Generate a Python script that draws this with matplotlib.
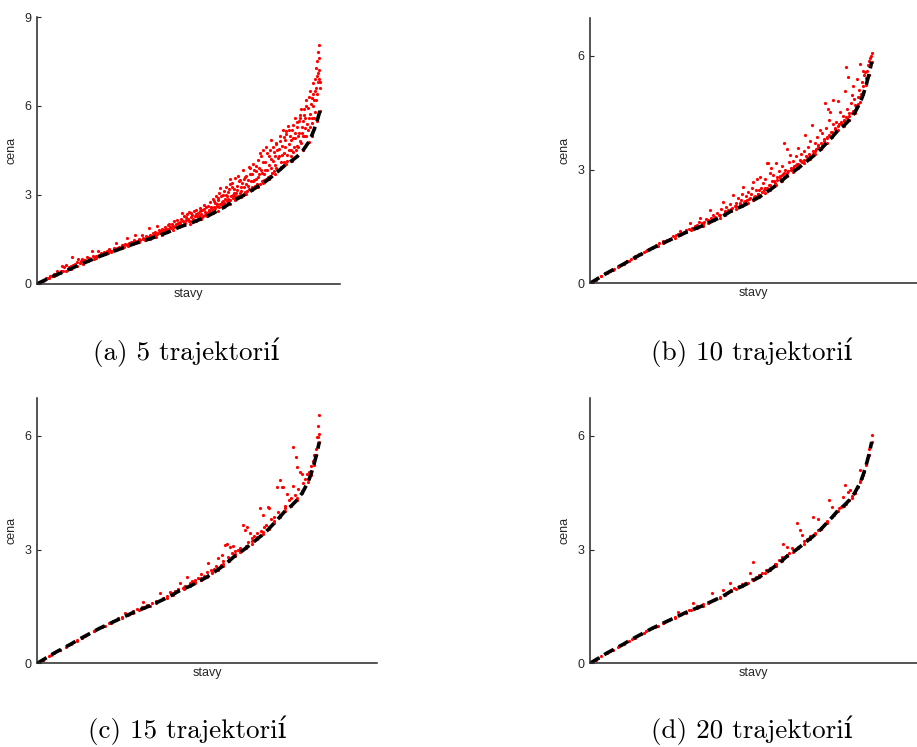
import matplotlib
matplotlib.use("Agg")
from matplotlib import pyplot as plt

# True cost along the states (dashed curve), state position in % of the state range
true_x = [0, 2, 4, 6, 8, 10, 12, 14, 16, 18, 20, 22, 24, 26, 28, 30, 32, 34, 36, 38,
          40, 42, 44, 46, 48, 50, 52, 54, 56, 58, 60, 62, 64, 66, 68, 70, 72, 74, 76, 78,
          80, 82, 84, 86, 88, 90, 92, 94, 96, 97, 98, 99, 100]
true_y = [0, 0.09, 0.18, 0.27, 0.35, 0.43, 0.51, 0.6, 0.68, 0.76, 0.84, 0.92, 0.99, 1.06,
          1.13, 1.2, 1.27, 1.34, 1.4, 1.46, 1.52, 1.59, 1.66, 1.73, 1.81, 1.9, 1.97, 2.03,
          2.11, 2.19, 2.27, 2.37, 2.47, 2.58, 2.7, 2.83, 2.93, 3.04, 3.16, 3.28, 3.4, 3.54,
          3.7, 3.86, 4.03, 4.15, 4.3, 4.5, 4.78, 4.98, 5.22, 5.5, 5.84]

# Estimated costs (red points), (state %, cost)
est_a = [
    (0.8, 0.05), (1.6, 0.1), (2.3, 0.12), (3.1, 0.19), (3.8, 0.2), (4.4, 0.27), (5.2, 0.26),
    (5.9, 0.33), (6.5, 0.31), (7.1, 0.42), (7.7, 0.36), (8.4, 0.44), (9.0, 0.42), (9.6, 0.55),
    (8.8, 0.6), (10.2, 0.62),
    (10.7, 0.5), (11.3, 0.55), (11.9, 0.6), (12.4, 0.9), (12.8, 0.62), (13.5, 0.66), (14.1, 0.72),
    (14.5, 0.85), (15.0, 0.7), (15.6, 0.78), (15.9, 0.85), (16.4, 0.8), (17.0, 0.79), (17.6, 0.9),
    (18.2, 0.86), (18.8, 0.83), (19.4, 1.12), (19.7, 0.92),
    (20.3, 0.9), (20.9, 0.95), (21.4, 1.09), (22.0, 0.97), (22.6, 1.02), (23.1, 1.0), (23.7, 1.08),
    (24.2, 1.05), (24.7, 1.09), (25.3, 1.18), (25.8, 1.1), (26.4, 1.12), (27.0, 1.2), (27.7, 1.39),
    (28.2, 1.19), (28.8, 1.25), (29.3, 1.22), (29.9, 1.32),
    (20.6, 0.88), (21.7, 0.93), (22.9, 0.98), (24.0, 1.02), (25.0, 1.05), (26.1, 1.09), (27.3, 1.13),
    (28.5, 1.17), (29.6, 1.22), (30.7, 1.25), (31.8, 1.3), (32.9, 1.34), (34.0, 1.38), (35.1, 1.42),
    (36.1, 1.44), (37.3, 1.5), (38.4, 1.52), (39.5, 1.56), (40.6, 1.6), (41.6, 1.64), (42.5, 1.68),
    (43.5, 1.72), (44.5, 1.76), (45.5, 1.8), (46.3, 1.84), (47.2, 1.87), (48.2, 1.9), (49.2, 1.95),
    (30.4, 1.3), (30.9, 1.35), (31.6, 1.54), (32.0, 1.33), (32.6, 1.38), (33.1, 1.42), (33.7, 1.4),
    (34.2, 1.48), (34.7, 1.63), (35.3, 1.45), (35.8, 1.5), (36.4, 1.47), (37.1, 1.66), (37.5, 1.55),
    (38.1, 1.52), (38.6, 1.6), (39.2, 1.58), (39.5, 1.88), (39.8, 1.65),
    (40.3, 1.6), (40.8, 1.7), (41.3, 1.66), (41.8, 1.75), (42.2, 1.95), (42.7, 1.72), (43.2, 1.8),
    (43.7, 1.78), (44.2, 1.86), (44.7, 1.82), (45.2, 1.9), (45.7, 1.85), (46.1, 1.98), (46.5, 2.03),
    (47.0, 1.92), (47.5, 2.0), (48.0, 1.95), (48.5, 2.1), (49.0, 2.02), (49.5, 2.15), (49.9, 2.05),
    (50.4, 2.0), (50.8, 2.2), (51.2, 2.37), (51.6, 2.1), (52.0, 2.28), (52.5, 2.15), (52.9, 2.35),
    (53.3, 2.2), (53.8, 2.42), (54.2, 2.25), (54.6, 2.33), (55.0, 2.2), (55.4, 2.45), (55.8, 2.3),
    (56.2, 2.5), (56.6, 2.28), (57.0, 2.4), (57.5, 2.55), (57.9, 2.35), (58.3, 2.48), (58.9, 2.65),
    (59.2, 2.42), (59.6, 2.58),
    (50.2, 1.95), (50.6, 2.08), (51.0, 1.98), (51.8, 2.02), (52.3, 2.05), (52.7, 2.25), (53.5, 2.1),
    (54.0, 2.1), (54.4, 2.38), (54.9, 2.12), (55.6, 2.15), (56.0, 2.35), (56.9, 2.2), (57.3, 2.28),
    (57.7, 2.45), (58.1, 2.25), (58.6, 2.3), (59.0, 2.52), (59.4, 2.32), (59.8, 2.4),
    (60.0, 2.4), (60.4, 2.62), (60.8, 2.5), (61.2, 2.75), (61.6, 2.55), (62.0, 2.85), (62.4, 2.6),
    (62.8, 2.72), (63.2, 2.95), (63.6, 2.68), (64.0, 2.82), (64.4, 3.05), (64.8, 3.24), (65.2, 2.75),
    (65.6, 2.98), (66.0, 3.12), (66.4, 2.85), (66.8, 3.25), (67.2, 2.95), (67.6, 3.1), (68.0, 3.38),
    (68.3, 3.55), (68.7, 3.4), (69.1, 3.0), (69.5, 3.2), (69.9, 3.57),
    (60.2, 2.32), (60.6, 2.45), (61.0, 2.4), (61.4, 2.6), (61.8, 2.45), (62.2, 2.5), (62.6, 2.8),
    (63.0, 2.55), (63.4, 2.62), (63.8, 2.9), (64.2, 2.6), (64.6, 2.7), (65.0, 2.95), (65.4, 2.68),
    (65.8, 2.8), (66.2, 2.72), (66.6, 3.0), (67.0, 2.8), (67.4, 2.85), (67.8, 3.2), (68.1, 2.82),
    (68.5, 2.95), (68.9, 3.25), (69.3, 2.9), (69.7, 3.05),
    (70.3, 3.05), (70.7, 3.3), (71.1, 3.65), (71.6, 3.51), (72.0, 3.12), (72.4, 3.4), (72.8, 3.85),
    (73.2, 3.25), (73.6, 3.6), (74.0, 3.62), (74.4, 3.3), (74.8, 3.95), (75.2, 3.9), (75.6, 3.45),
    (76.0, 3.7), (76.4, 4.05), (76.8, 3.5), (77.2, 3.8), (77.5, 3.96), (77.9, 3.6), (78.1, 4.18),
    (78.5, 3.9), (78.9, 4.4), (79.3, 4.3), (79.6, 3.75), (79.9, 4.52),
    (70.1, 2.95), (70.5, 3.15), (70.9, 2.95), (71.3, 3.45), (71.8, 3.05), (72.2, 3.25), (72.6, 3.0),
    (73.0, 3.55), (73.4, 3.1), (73.8, 3.35), (74.2, 3.12), (74.6, 3.5), (75.0, 3.2), (75.4, 3.7),
    (75.8, 3.25), (76.2, 3.45), (76.6, 3.85), (77.0, 3.3), (77.4, 3.55), (77.7, 3.35), (78.3, 3.7),
    (78.7, 3.38), (79.1, 3.85), (79.5, 3.45), (79.8, 4.1),
    (80.3, 3.7), (80.6, 4.1), (81.0, 4.6), (81.4, 3.85), (81.8, 4.3), (82.2, 4.52), (82.5, 3.9),
    (82.8, 4.86), (83.2, 4.15), (83.6, 4.45), (84.0, 4.0), (84.3, 4.7), (84.6, 4.75), (85.0, 4.25),
    (85.4, 4.55), (85.8, 4.97), (86.2, 4.1), (86.5, 4.65), (86.9, 5.2), (87.2, 4.4), (87.5, 4.86),
    (87.9, 5.05), (88.2, 4.35), (88.7, 5.31), (89.0, 4.7), (89.4, 5.0), (89.8, 4.5),
    (80.1, 3.5), (80.5, 3.85), (80.9, 3.55), (81.2, 4.4), (81.6, 3.6), (82.0, 4.0), (82.4, 3.65),
    (82.7, 4.2), (83.0, 3.75), (83.4, 4.6), (83.8, 3.8), (84.1, 4.3), (84.5, 3.9), (84.8, 4.5),
    (85.2, 3.85), (85.6, 4.3), (86.0, 4.8), (86.3, 3.95), (86.7, 4.35), (87.1, 4.95), (87.4, 4.1),
    (87.7, 4.6), (88.0, 5.15), (88.4, 4.15), (88.9, 4.5), (89.2, 5.2), (89.6, 4.3), (89.9, 4.85),
    (90.1, 5.2), (90.5, 5.37), (90.8, 4.6), (91.0, 5.6), (91.3, 4.9), (91.7, 4.63), (92.0, 5.3),
    (92.2, 4.97), (92.5, 5.5), (92.8, 5.6), (93.1, 4.8), (93.4, 5.88), (93.7, 5.1), (94.0, 5.48),
    (94.3, 5.7), (94.6, 5.26), (94.9, 5.0),
    (90.3, 4.45), (90.6, 4.9), (91.1, 5.1), (91.5, 4.5), (91.9, 5.45), (92.3, 4.6), (92.7, 5.1),
    (93.0, 5.7), (93.3, 4.75), (93.6, 5.3), (93.9, 5.0), (94.2, 5.9), (94.5, 5.0), (94.8, 5.6),
    (95.2, 6.21), (95.4, 5.4), (95.8, 5.93), (96.1, 5.6), (96.4, 6.5), (96.6, 5.71), (97.0, 6.27),
    (97.2, 5.43), (97.5, 6.78), (97.7, 5.99), (98.0, 6.2), (98.1, 6.5), (98.3, 5.8), (98.5, 7.29),
    (98.7, 6.6), (98.9, 7.0), (99.1, 7.51), (99.3, 7.81), (99.5, 6.9), (99.6, 8.04), (99.8, 7.2),
    (100.0, 6.6),
    (95.0, 6.0), (95.6, 5.2), (96.0, 6.3), (96.3, 5.3), (96.8, 6.05), (97.1, 5.6), (97.4, 6.4),
    (97.9, 5.6), (98.2, 6.9), (98.6, 6.2), (99.0, 6.4), (99.2, 6.8), (99.4, 7.1), (99.7, 7.6),
    (99.9, 6.8),
]

est_b = [
    (1.0, 0.06), (2.5, 0.13), (4.0, 0.2), (5.5, 0.27), (7.0, 0.33), (8.5, 0.39), (10.0, 0.45),
    (11.5, 0.52), (13.0, 0.58), (14.5, 0.64), (16.0, 0.71), (17.5, 0.77), (19.0, 0.83), (20.1, 0.88),
    (21.0, 0.9), (22.3, 0.96), (23.5, 1.0), (24.6, 1.05), (26.0, 1.12), (27.2, 1.15), (28.4, 1.18),
    (29.5, 1.25), (30.6, 1.27), (31.4, 1.3), (32.0, 1.38), (33.2, 1.36), (34.1, 1.4), (35.0, 1.44),
    (35.5, 1.58), (36.3, 1.46), (37.2, 1.52), (38.0, 1.55), (38.8, 1.62), (39.0, 1.71), (39.6, 1.58),
    (40.5, 1.62), (41.2, 1.7), (41.9, 1.64), (42.6, 1.93), (43.1, 1.72), (43.8, 1.8), (44.5, 1.74),
    (45.2, 1.85), (45.9, 1.8), (46.5, 1.95), (47.3, 2.15), (47.8, 1.9), (48.4, 2.0), (49.0, 1.92),
    (49.6, 2.1),
    (50.3, 1.98), (50.9, 2.33), (51.4, 2.05), (52.0, 2.12), (52.6, 2.25), (53.1, 2.08), (53.6, 2.2),
    (54.0, 2.35), (54.4, 2.55), (54.8, 2.15), (55.3, 2.3), (55.8, 2.2), (56.2, 2.42), (56.7, 2.25),
    (57.2, 2.36), (57.6, 2.5), (58.0, 2.68), (58.4, 2.3), (58.9, 2.45), (59.2, 2.74), (59.6, 2.35),
    (60.0, 2.45), (60.3, 2.81), (60.8, 2.5), (61.3, 2.65), (61.8, 2.45), (62.3, 2.75), (62.7, 3.16),
    (63.1, 3.18), (63.4, 2.6), (63.8, 2.9), (64.2, 3.03), (64.6, 2.7), (65.0, 2.85), (65.5, 2.65),
    (66.0, 3.16), (66.5, 2.8), (67.0, 2.95), (67.5, 2.78), (68.0, 3.1), (68.5, 2.88), (68.9, 3.71),
    (69.3, 3.0), (69.8, 3.53),
    (70.2, 2.95), (70.6, 3.2), (71.0, 3.38), (71.5, 3.05), (72.0, 3.23), (72.5, 3.1), (73.0, 3.35),
    (73.5, 3.15), (73.9, 3.56), (74.4, 3.25), (74.9, 3.4), (75.4, 3.2), (75.9, 3.5), (76.3, 3.91),
    (76.8, 3.35), (77.3, 3.6), (77.8, 3.4), (78.2, 3.75), (78.7, 4.17), (79.2, 3.5), (79.7, 3.7),
    (80.2, 3.55), (80.7, 3.85), (81.1, 3.65), (81.6, 4.04), (82.0, 3.7), (82.5, 3.95), (83.0, 3.8),
    (83.4, 4.75), (83.9, 4.1), (84.3, 3.85), (84.8, 4.3), (85.2, 4.52), (85.7, 4.0), (86.1, 4.2),
    (86.4, 4.83), (86.9, 4.1), (87.5, 4.26), (88.0, 4.15), (88.7, 4.52), (89.2, 4.25), (89.7, 4.4),
    (90.1, 4.3), (90.4, 5.07), (90.9, 5.71), (91.1, 4.35), (91.4, 4.6), (91.7, 5.45), (92.1, 4.5),
    (92.5, 4.75), (92.9, 4.96), (93.3, 4.55), (93.7, 4.85), (94.1, 4.7), (94.5, 4.65), (94.7, 5.38),
    (95.1, 4.9), (95.5, 5.1), (95.8, 5.78), (96.2, 5.0), (96.6, 5.3), (97.0, 5.2), (97.3, 5.5),
    (97.6, 5.58), (98.0, 5.4), (98.4, 5.6), (98.8, 5.75), (99.2, 5.85), (99.5, 5.95), (99.8, 5.99),
    (100.0, 6.08),
    (40.0, 1.57), (42.0, 1.66), (44.0, 1.72), (46.0, 1.79), (48.0, 1.87), (50.0, 1.95), (51.7, 2.04),
    (53.3, 2.12), (55.0, 2.18), (56.5, 2.22), (58.2, 2.28), (59.8, 2.36), (61.0, 2.42), (62.0, 2.5),
    (63.0, 2.52), (64.0, 2.6), (65.3, 2.7), (66.3, 2.72), (67.3, 2.82), (68.3, 2.85), (69.0, 2.92),
    (70.0, 2.9), (71.2, 3.0), (72.2, 3.03), (73.2, 3.12), (74.0, 3.14), (75.0, 3.22), (76.0, 3.26),
    (77.0, 3.32), (78.0, 3.36), (79.0, 3.42), (80.0, 3.48), (81.0, 3.6), (82.2, 3.66), (83.2, 3.75),
    (84.0, 3.82), (85.0, 3.92), (86.0, 3.98), (87.0, 4.08), (88.3, 4.2), (89.0, 4.22), (90.0, 4.28),
    (91.0, 4.38), (92.0, 4.42), (93.0, 4.5), (94.0, 4.58), (95.0, 4.72), (96.0, 4.92),
    (84.5, 4.6), (88.2, 4.8), (93.5, 5.2), (96.8, 5.6), (97.8, 5.25),
]

est_c = [
    (2.0, 0.1), (5.0, 0.23), (8.0, 0.36), (11.0, 0.48), (14.0, 0.61), (17.0, 0.73), (20.0, 0.85),
    (23.0, 0.97), (25.5, 1.06), (27.0, 1.12), (28.5, 1.2), (30.0, 1.23), (31.1, 1.34), (32.5, 1.3),
    (34.0, 1.37), (35.5, 1.43), (37.0, 1.48), (37.6, 1.63), (39.0, 1.55), (40.5, 1.58), (42.0, 1.64),
    (43.5, 1.85), (44.5, 1.72), (46.0, 1.78), (47.0, 1.89), (48.0, 1.85), (49.0, 1.9), (50.6, 2.11),
    (51.5, 2.0), (52.2, 2.05), (53.0, 2.28), (54.0, 2.12), (55.0, 2.18), (56.0, 2.2), (57.0, 2.25),
    (58.0, 2.35), (59.0, 2.3), (60.0, 2.4), (60.6, 2.64), (61.5, 2.45), (62.5, 2.5), (63.5, 2.58),
    (64.2, 2.77), (65.0, 2.6), (65.4, 2.86), (66.0, 2.7), (66.6, 3.12), (67.1, 3.16), (67.5, 2.8),
    (68.3, 3.08), (69.0, 2.9), (69.5, 3.09), (70.0, 2.95), (71.0, 3.0), (72.0, 3.05), (73.0, 3.65),
    (73.6, 3.51), (74.3, 3.6), (74.8, 3.2), (75.4, 3.43), (76.0, 3.3), (77.0, 3.35), (78.0, 3.45),
    (79.0, 4.09), (79.5, 3.5), (80.1, 3.91), (80.5, 3.6), (81.2, 3.65), (81.9, 4.13), (82.3, 4.11),
    (83.0, 3.8), (84.0, 3.85), (85.1, 4.64), (85.5, 4.0), (86.1, 4.83), (86.9, 4.64), (87.2, 4.66),
    (87.8, 4.15), (88.7, 4.48), (89.3, 4.3), (90.0, 4.35), (90.6, 5.71), (90.8, 4.67), (91.3, 4.45),
    (91.7, 5.45), (92.0, 5.18), (92.5, 4.6), (93.2, 5.05), (93.7, 5.0), (94.3, 4.75), (95.0, 4.85),
    (95.6, 5.0), (96.3, 5.05), (97.0, 5.2), (97.6, 5.35), (98.2, 5.5), (98.7, 5.65), (99.1, 5.97),
    (99.5, 6.26), (99.6, 5.98), (99.9, 6.55), (100.0, 6.06),
    (50.0, 1.95), (52.0, 2.02), (54.0, 2.08), (56.0, 2.15), (58.0, 2.24), (62.0, 2.42), (64.0, 2.52),
    (66.0, 2.63), (68.0, 2.75), (70.0, 2.88), (72.0, 2.98), (74.0, 3.1), (76.0, 3.22), (78.0, 3.33),
    (80.0, 3.46), (82.0, 3.6), (84.0, 3.76), (86.0, 3.92), (88.0, 4.1), (92.0, 4.35), (94.0, 4.55),
    (96.0, 4.85),
]

est_d = [
    (3.0, 0.15), (7.0, 0.32), (11.0, 0.48), (15.0, 0.65), (19.0, 0.81), (23.0, 0.97), (27.0, 1.12),
    (30.0, 1.22), (31.4, 1.36), (33.0, 1.33), (35.0, 1.4), (36.7, 1.58), (38.0, 1.5), (40.0, 1.56),
    (42.0, 1.63), (43.2, 1.85), (44.5, 1.7), (46.0, 1.76), (47.3, 1.93), (48.5, 1.86), (49.7, 2.11),
    (51.0, 1.98), (53.0, 2.04), (55.0, 2.13), (56.8, 2.37), (57.5, 2.22), (58.0, 2.68), (59.0, 2.28),
    (61.0, 2.37), (62.5, 2.45), (64.0, 2.52), (65.5, 2.62), (67.0, 2.72), (68.0, 2.8), (68.6, 3.16),
    (69.8, 3.08), (70.5, 2.9), (71.6, 3.03), (72.5, 3.0), (73.4, 3.69), (74.6, 3.51), (75.2, 3.38),
    (76.0, 3.22), (77.0, 3.28), (78.0, 3.35), (79.3, 3.87), (80.0, 3.45), (80.9, 3.8), (82.0, 3.58),
    (83.0, 3.65), (84.0, 3.75), (85.0, 4.31), (85.8, 4.13), (86.5, 3.9), (87.5, 4.0), (88.5, 4.1),
    (89.9, 4.39), (90.5, 4.7), (91.0, 4.2), (91.7, 4.53), (92.3, 4.57), (93.0, 4.35), (94.0, 4.5),
    (95.0, 4.65), (95.8, 5.11), (96.5, 4.9), (97.2, 5.05), (97.8, 5.25), (98.5, 5.4), (99.2, 5.65),
    (99.6, 5.8), (100.0, 6.02),
    (50.0, 1.94), (54.0, 2.08), (60.0, 2.32), (63.0, 2.47), (66.0, 2.62), (70.0, 2.87), (74.0, 3.08),
    (77.0, 3.25), (81.0, 3.52), (84.0, 3.74), (87.0, 3.97), (89.0, 4.12), (93.0, 4.42), (96.0, 4.82),
]

captions = ["(a) 5 trajektorií", "(b) 10 trajektorií", "(c) 15 trajektorií", "(d) 20 trajektorií"]
y_max = [9, 7, 7, 7]
y_ticks = [[0, 3, 6, 9], [0, 3, 6], [0, 3, 6], [0, 3, 6]]

W, H = 917, 747
AX_COLOR = "#262626"


def px_axes(fig, left, top, right, bottom):
    # axes from pixel box (origin top-left)
    return fig.add_axes([left / W, 1 - bottom / H, (right - left) / W, (bottom - top) / H])


def draw_panel(ax, est, ymax, ticks, xmax):
    ex, ey = zip(*est)
    ax.plot(ex, ey, "o", color="red", markersize=2.3, markeredgewidth=0, zorder=1)
    ax.plot(true_x, true_y, "o", color="red", markersize=2.3, markeredgewidth=0, zorder=1)
    ax.plot(true_x, true_y, color="black", linestyle=(0, (3.0, 1.6)), linewidth=2.6, zorder=2)

    ax.set_xlim(0, xmax)
    ax.set_ylim(0, ymax)
    ax.set_xticks([])
    ax.set_yticks(ticks)
    for side in ("top", "right"):
        ax.spines[side].set_visible(False)
    for side in ("left", "bottom"):
        ax.spines[side].set_color(AX_COLOR)
        ax.spines[side].set_linewidth(1.1)
    ax.tick_params(axis="y", direction="in", length=3, width=0.8, colors=AX_COLOR,
                   labelsize=9, pad=4)
    ax.set_xlabel("stavy", fontsize=9, color=AX_COLOR, labelpad=3)
    ax.set_ylabel("cena", fontsize=9, color=AX_COLOR, labelpad=5)
    ax.patch.set_alpha(0)


def main():
    plt.rcParams["font.family"] = ["Liberation Sans", "DejaVu Sans"]
    fig = plt.figure(figsize=(W / 100, H / 100), dpi=100)

    boxes = [
        (37.3, 17.0, 340, 283.7),
        (590, 17.8, 917, 283.3),
        (37.3, 398.0, 377, 663.3),
        (590, 398.0, 917, 663.3),
    ]
    data_end = [320.0, 871.7, 319.3, 871.7]
    panels = [est_a, est_b, est_c, est_d]
    caption_pos = [(186, 352), (752, 352), (187, 730), (752, 730)]

    for i, box in enumerate(boxes):
        ax = px_axes(fig, *box)
        xmax = 100 * (box[2] - box[0]) / (data_end[i] - box[0])
        draw_panel(ax, panels[i], y_max[i], y_ticks[i], xmax)
        cx, cy = caption_pos[i]
        fig.text(cx / W, 1 - cy / H, captions[i], ha="center", va="center",
                 fontsize=19.5, family=["cmr10", "DejaVu Serif"])

    fig.savefig("out.png", dpi=100)


if __name__ == "__main__":
    main()
